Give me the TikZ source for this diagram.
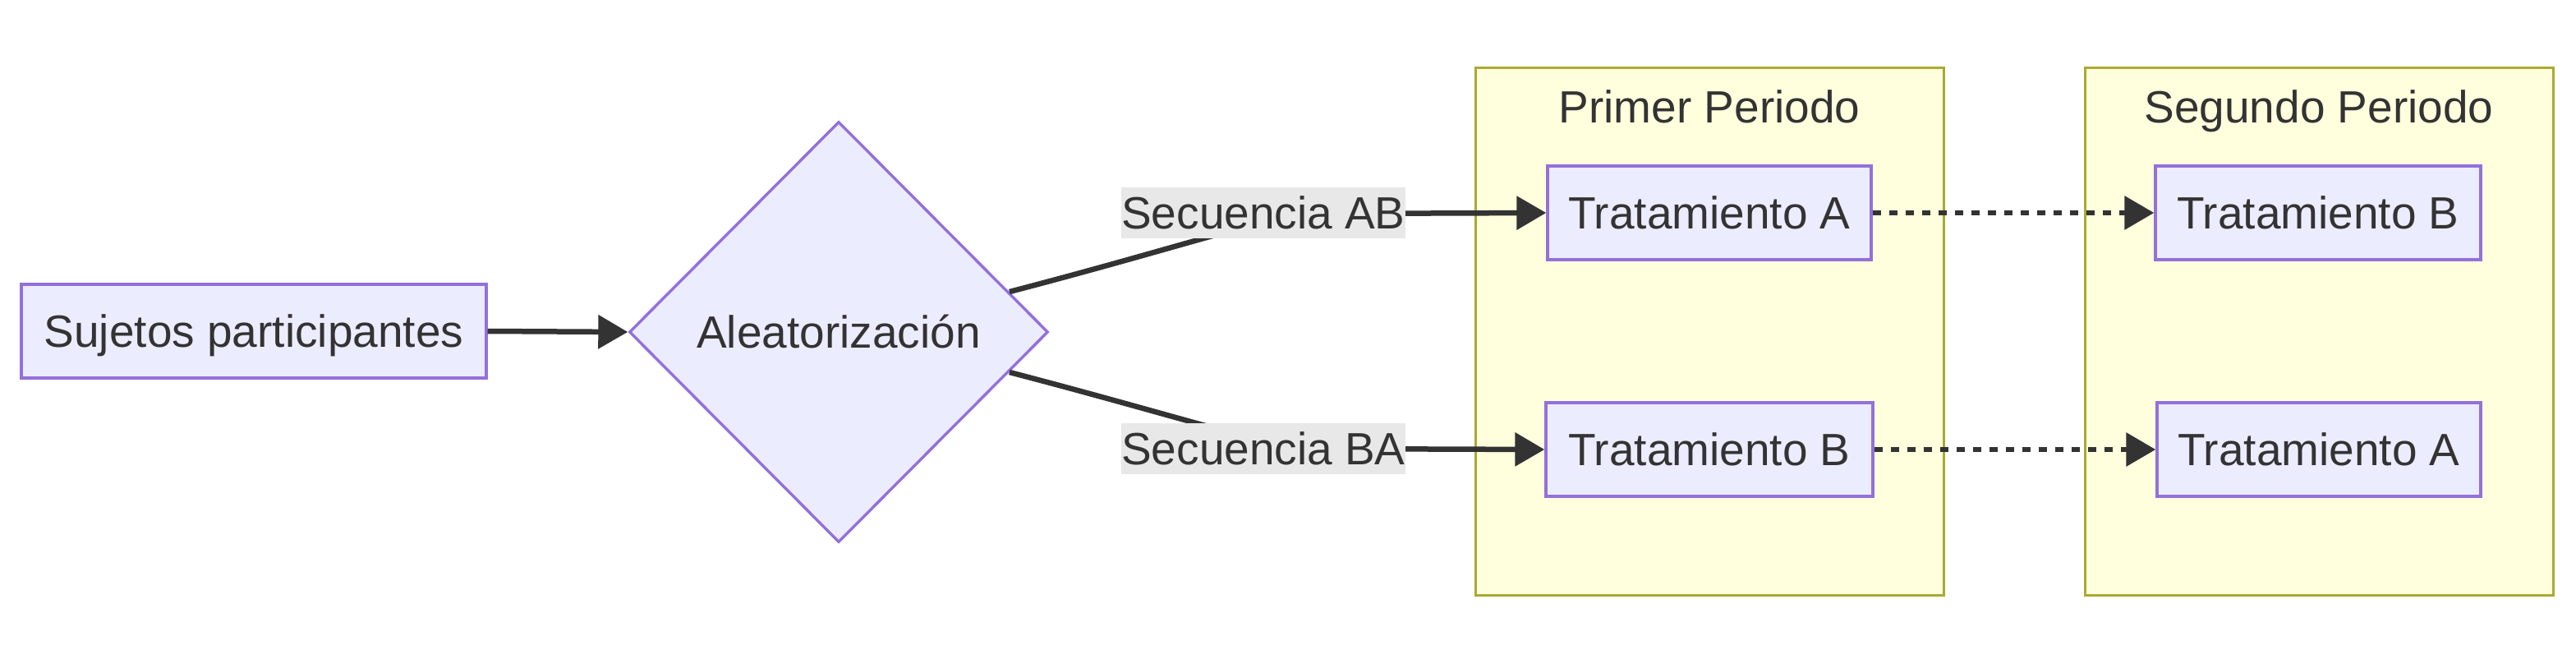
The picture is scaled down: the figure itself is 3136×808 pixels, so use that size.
\documentclass[tikz,border=0pt]{standalone}
\usepackage{fontspec}
\setmainfont{Liberation Sans}
\usetikzlibrary{shapes.geometric,arrows.meta,calc}
\definecolor{nodefill}{HTML}{ECECFF}
\definecolor{nodeborder}{HTML}{9370DB}
\definecolor{clfill}{HTML}{FFFFDE}
\definecolor{clborder}{HTML}{AAAA33}
\definecolor{txt}{HTML}{333333}
\definecolor{lblbg}{HTML}{E8E8E8}
\begin{document}
\begin{tikzpicture}[x=1pt,y=-1pt,
  every node/.style={font=\fontsize{55}{66}\selectfont, text=txt, text height=50.9pt, text depth=11.5pt},
  box/.style={draw=nodeborder, fill=nodefill, line width=3.4pt, minimum width=#1, minimum height=114pt, inner sep=0pt},
  decision/.style={diamond, aspect=1, draw=nodeborder, fill=nodefill, line width=3.4pt, minimum width=510pt, minimum height=512pt, inner sep=0pt},
  cluster/.style={draw=clborder, fill=clfill, line width=3pt, minimum width=570pt, minimum height=642pt, inner sep=0pt},
  edgelbl/.style={fill=lblbg, inner sep=0pt, minimum height=58pt, minimum width=346pt},
  edge/.style={draw=txt, line width=6.5pt, -{Triangle[length=36pt,width=40pt]}},
  dotedge/.style={draw=txt, line width=6.5pt, dash pattern=on 10pt off 10pt, -{Triangle[length=36pt,width=40pt]}}
]
\useasboundingbox (0,0) rectangle (3136,808);
% clusters
\node[cluster] (c1) at (2081,403) {};
\node[cluster] (c2) at (2823,403) {};
\node (c1t) at (2081,130) {Primer Periodo};
\node (c2t) at (2823,130) {Segundo Periodo};
% nodes
\node[box=566pt] (s) at (309,403) {Sujetos participantes};
\node[decision] (d) at (1021,404) {Aleatorización};
\node[box=394pt] (ta1) at (2081,259) {Tratamiento A};
\node[box=398pt] (tb1) at (2081,547) {Tratamiento B};
\node[box=396pt] (tb2) at (2822,259) {Tratamiento B};
\node[box=394pt] (ta2) at (2823,547) {Tratamiento A};
% edges
\draw[edge] (s.east) -- (d.west);
\coordinate (dAB) at ($(d.north)!0.81!(d.east)$);
\coordinate (dBA) at ($(d.south)!0.81!(d.east)$);
\draw[edge] (dAB) .. controls (1440,300) and (1540,264) .. (1600,260) -- (ta1.west);
\draw[edge] (dBA) .. controls (1440,508) and (1540,543) .. (1600,546) -- (tb1.west);
\node[edgelbl] (lab) at (1538,259) {Secuencia AB};
\node[edgelbl] (lba) at (1538,546) {Secuencia BA};
\draw[dotedge] (ta1.east) -- (tb2.west);
\draw[dotedge] (tb1.east) -- (ta2.west);
\end{tikzpicture}
\end{document}
